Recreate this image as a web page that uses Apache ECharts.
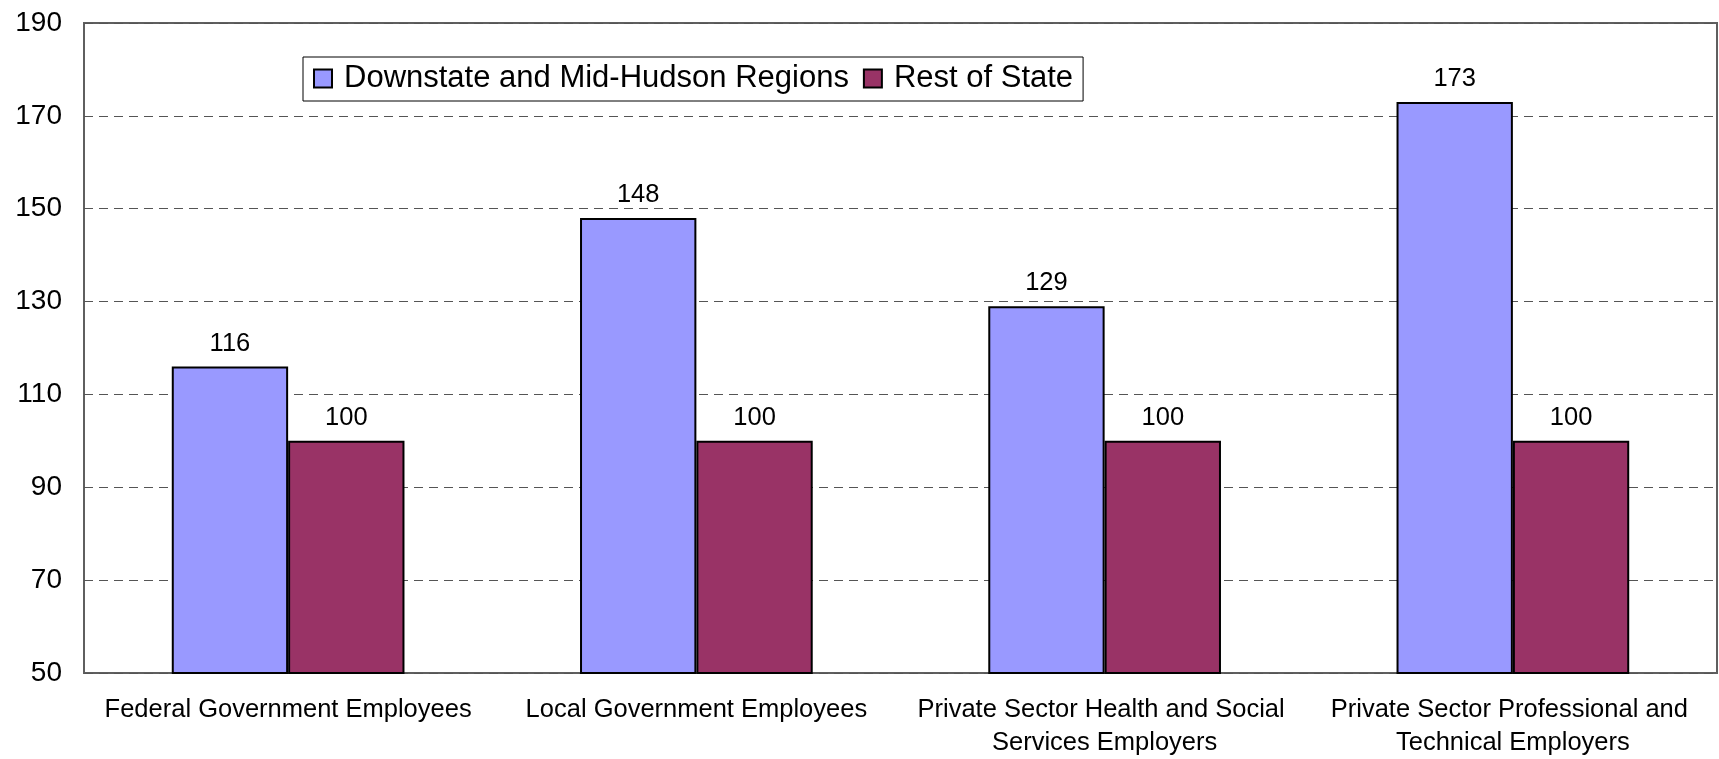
<!DOCTYPE html>
<html>
<head>
<meta charset="utf-8">
<title>Relative wages by region</title>
<script src="https://cdn.jsdelivr.net/npm/echarts@6/dist/echarts.min.js"></script>
<style>
  html, body { margin: 0; padding: 0; background: #ffffff; }
  #chart { width: 1719px; height: 759px; }
</style>
</head>
<body>
<div id="chart"></div>
<script>
// Employer groups shown along the x axis
const categories = [
  'Federal Government Employees',
  'Local Government Employees',
  'Private Sector Health and Social Services Employers',
  'Private Sector Professional and Technical Employers'
];

// Index values (Rest of State = 100)
const downstateValues = [116, 148, 129, 173];
const restOfStateValues = [100, 100, 100, 100];

const seriesNames = ['Downstate and Mid-Hudson Regions', 'Rest of State'];

// Value axis range and step
const yMin = 50;
const yMax = 190;
const yStep = 20;

const FONT = '"Liberation Sans", Arial, Helvetica, sans-serif';

const chart = echarts.init(document.getElementById('chart'), null, { renderer: 'canvas' });

const labelStyle = {
  show: true,
  position: 'top',
  distance: 10,
  color: '#000000',
  fontFamily: FONT,
  fontSize: 25.5
};

chart.setOption({
  backgroundColor: '#ffffff',
  animation: false,
  textStyle: { fontFamily: FONT },
  grid: {
    left: 84,
    right: 2,
    top: 23,
    bottom: 83,
    show: true,
    borderColor: '#5f5f5f',
    borderWidth: 2,
    backgroundColor: 'transparent'
  },
  legend: {
    data: seriesNames,
    left: 303,
    top: 57,
    selectedMode: false,
    icon: 'rect',
    itemWidth: 18,
    itemHeight: 18,
    itemGap: 14,
    padding: [6, 10, 7, 10],
    backgroundColor: '#ffffff',
    borderColor: '#000000',
    borderWidth: 1,
    itemStyle: { borderColor: '#000000', borderWidth: 2 },
    textStyle: {
      color: '#000000',
      fontFamily: FONT,
      fontSize: 31,
      padding: [0, 0, 0, 7]
    }
  },
  xAxis: {
    type: 'category',
    data: categories,
    axisLine: { show: false },
    axisTick: { show: false },
    axisLabel: {
      color: '#000000',
      fontFamily: FONT,
      fontSize: 25.5,
      lineHeight: 33,
      margin: 20,
      width: 395,
      overflow: 'break',
      interval: 0
    }
  },
  yAxis: {
    type: 'value',
    min: yMin,
    max: yMax,
    interval: yStep,
    axisLine: { show: false },
    axisTick: { show: false },
    axisLabel: {
      color: '#000000',
      fontFamily: FONT,
      fontSize: 28,
      margin: 22
    },
    splitLine: {
      show: true,
      lineStyle: { color: '#555555', width: 1, type: [9, 6] }
    }
  },
  series: [
    {
      name: seriesNames[0],
      type: 'bar',
      data: downstateValues,
      barGap: '0%',
      barCategoryGap: '43%',
      itemStyle: { color: '#9999ff', borderColor: '#000000', borderWidth: 2 },
      label: labelStyle
    },
    {
      name: seriesNames[1],
      type: 'bar',
      data: restOfStateValues,
      itemStyle: { color: '#993366', borderColor: '#000000', borderWidth: 2 },
      label: labelStyle
    }
  ]
});
</script>
</body>
</html>
